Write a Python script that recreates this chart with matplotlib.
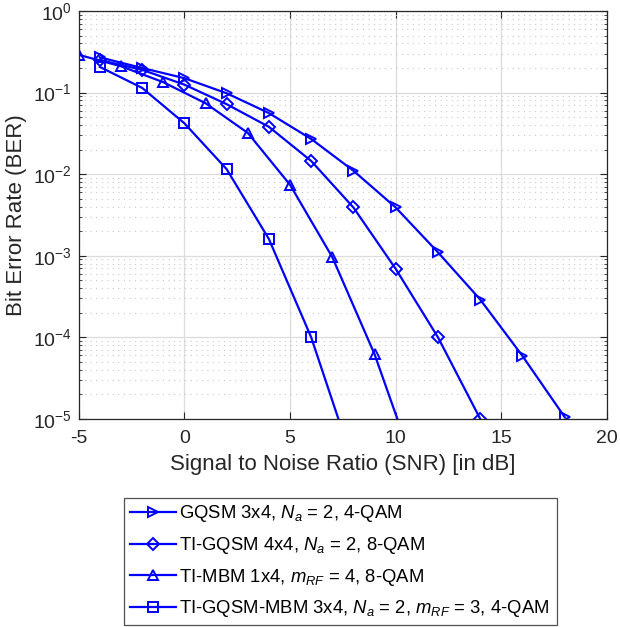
import numpy as np
import matplotlib
matplotlib.use("Agg")
import matplotlib.pyplot as plt
from matplotlib.ticker import LogLocator, NullFormatter, FixedLocator

plt.rcParams['font.family'] = ['Liberation Sans', 'DejaVu Sans']
plt.rcParams['mathtext.fontset'] = 'custom'
plt.rcParams['mathtext.it'] = 'Liberation Sans:italic'
plt.rcParams['mathtext.rm'] = 'Liberation Sans'
plt.rcParams['axes.unicode_minus'] = False

# SNR (dB) and BER values
snr_gqsm = [-4, -2, 0, 2, 4, 6, 8, 10, 12, 14, 16, 18]
ber_gqsm = [0.27, 0.2, 0.15, 0.098, 0.056, 0.027, 0.011, 0.0039, 0.0011, 2.9e-4, 5.9e-5, 1.05e-5]

snr_tigqsm = [-4, -2, 0, 2, 4, 6, 8, 10, 12, 14]
ber_tigqsm = [0.25, 0.19, 0.125, 0.072, 0.038, 0.0145, 0.0039, 6.9e-4, 1.0e-4, 1.0e-5]

snr_timbm = [-5, -3, -1, 1, 3, 5, 7, 9, 11]
ber_timbm = [0.29, 0.21, 0.134, 0.074, 0.032, 0.0074, 9.6e-4, 6.2e-5, 2.1e-6]

snr_tigqsmmbm = [-4, -2, 0, 2, 4, 6, 8]
ber_tigqsmmbm = [0.206, 0.114, 0.042, 0.0115, 1.6e-3, 1.0e-4, 2.8e-6]

labels = [
    r"GQSM 3x4, $N_a$ = 2, 4-QAM",
    r"TI-GQSM 4x4, $N_a$ = 2, 8-QAM",
    r"TI-MBM 1x4, $m_{RF}$ = 4, 8-QAM",
    r"TI-GQSM-MBM 3x4, $N_a$ = 2, $m_{RF}$ = 3, 4-QAM",
]

fig = plt.figure(figsize=(6.2, 6.27), dpi=100)
ax = fig.add_axes([0.127, 0.332, 0.852, 0.6505])

style = dict(color=(0, 0, 1), linewidth=1.6, markersize=7.5, markerfacecolor="none",
             markeredgewidth=1.4, clip_on=True)
ax.semilogy(snr_gqsm, ber_gqsm, marker=">", label=labels[0], **style)
ax.semilogy(snr_tigqsm, ber_tigqsm, marker="D", label=labels[1], **dict(style, markersize=6))
ax.semilogy(snr_timbm, ber_timbm, marker="^", label=labels[2], **style)
ax.semilogy(snr_tigqsmmbm, ber_tigqsmmbm, marker="s", label=labels[3], **dict(style, markersize=6.5))

ax.set_xlim(-5, 20)
ax.set_ylim(1e-5, 1)
ax.xaxis.set_major_locator(FixedLocator([-5, 0, 5, 10, 15, 20]))
ax.yaxis.set_major_locator(LogLocator(base=10, numticks=10))
ax.yaxis.set_minor_locator(LogLocator(base=10, subs=np.arange(2, 10), numticks=10))
ax.yaxis.set_minor_formatter(NullFormatter())

ax.grid(True, which="major", color="#dcdcdc", linestyle="-", linewidth=0.9)
ax.grid(True, which="minor", axis="y", color="#c8c8c8", linestyle=(0, (1, 4)), linewidth=0.8)
ax.set_axisbelow(True)

ax.tick_params(which="both", direction="in", top=True, right=True, labelsize=14, colors="#262626")
ax.tick_params(which="major", length=5)
ax.tick_params(which="minor", length=2.5)
ax.tick_params(axis="x", pad=8)
ax.tick_params(axis="y", pad=5)
for sp in ax.spines.values():
    sp.set_color("#262626")
    sp.set_linewidth(0.9)

ax.set_xlabel("Signal to Noise Ratio (SNR) [in dB]", fontsize=16, color="#262626", labelpad=5)
ax.set_ylabel("Bit Error Rate (BER)", fontsize=16, color="#262626", labelpad=4)

leg = fig.legend(loc="lower left", bbox_to_anchor=(124 / 620, 1 - 625 / 627, 433 / 620, 132 / 627),
                 mode="expand", fontsize=13.3, frameon=True, fancybox=False, handlelength=2.5,
                 handletextpad=0.2, borderaxespad=0, labelspacing=0.58, borderpad=0.3)
leg.get_frame().set_edgecolor("#262626")
leg.get_frame().set_linewidth(0.9)

fig.savefig("out.png", dpi=100)
